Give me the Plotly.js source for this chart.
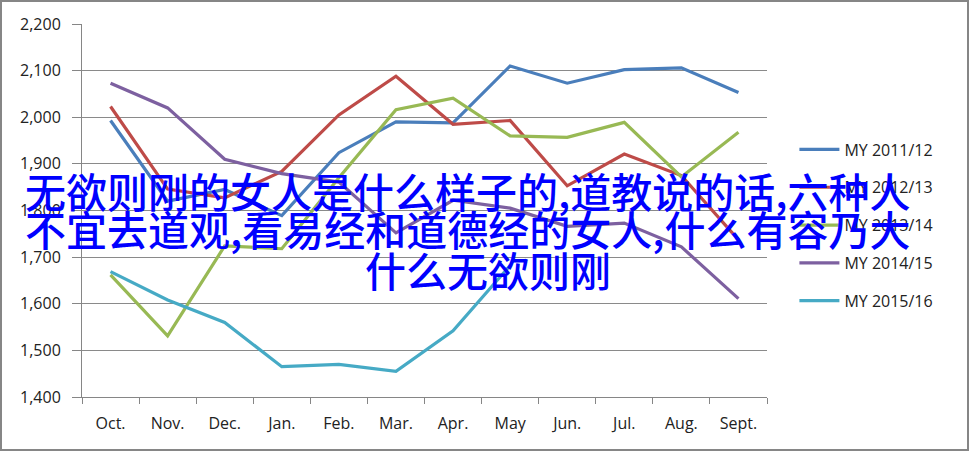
<!DOCTYPE html>
<html>
<head>
<meta charset="utf-8">
<script src="https://cdn.plot.ly/plotly-3.0.1.min.js"></script>
<style>
  html, body { margin: 0; padding: 0; background: #fff; }
  #wrap { position: relative; width: 969px; height: 451px; }
  #chart { position: absolute; left: 0; top: 0; width: 969px; height: 451px; }
  #frame { position: absolute; left: 0; top: 0; width: 969px; height: 451px;
           box-sizing: border-box; border: 2px solid #868686; pointer-events: none; }
</style>
</head>
<body>
<div id="wrap">
  <div id="chart"></div>
  <div id="frame"></div>
</div>
<script>
// Marketing years, October through September
const months = ["Oct.", "Nov.", "Dec.", "Jan.", "Feb.", "Mar.", "Apr.", "May", "Jun.", "Jul.", "Aug.", "Sept."];

const seriesNames = ["MY 2011/12", "MY 2012/13", "MY 2013/14", "MY 2014/15", "MY 2015/16"];

const my2011 = [1993, 1820, 1845, 1789, 1924, 1990, 1988, 2110, 2073, 2102, 2106, 2053];
const my2012 = [2023, 1846, 1827, 1884, 2005, 2088, 1985, 1993, 1853, 1921, 1875, 1737];
const my2013 = [1662, 1531, 1724, 1718, 1870, 2016, 2041, 1960, 1957, 1989, 1872, 1968];
const my2014 = [2073, 2020, 1910, 1879, 1861, 1752, 1822, 1805, 1766, 1773, 1722, 1611];
const my2015 = [1669, 1608, 1560, 1465, 1470, 1455, 1542, 1682];

const seriesValues = [my2011, my2012, my2013, my2014, my2015];
const seriesColors = ["#4A7EBB", "#BE4B48", "#98B954", "#7D60A0", "#46AAC5"];

// Headline text laid over the chart, one annotation per line
const headlineLines = [
  "无欲则刚的女人是什么样子的,道教说的话,六种人",
  "不宜去道观,看易经和道德经的女人,什么有容乃大",
  "什么无欲则刚"
];

const traces = seriesValues.map((vals, i) => ({
  type: "scatter",
  mode: "lines",
  name: seriesNames[i],
  legendgroup: "g" + i,
  x: months.slice(0, vals.length),
  y: vals,
  line: { color: seriesColors[i], width: 3.2 },
  hoverinfo: "skip"
}));

const headlinePos = [
  { x: 0.5635, y: 0.556 },
  { x: 0.5635, y: 0.452 },
  { x: 0.5927, y: 0.343 }
];

const annotations = headlineLines.map((t, i) => ({
  xref: "paper", yref: "paper",
  x: headlinePos[i].x, y: headlinePos[i].y,
  xanchor: "center", yanchor: "middle",
  text: t,
  showarrow: false,
  font: { family: "Noto Sans CJK SC", size: 41, color: "#0000FF", weight: 500 }
}));

const tickFont = { family: "Open Sans, Lato, sans-serif", size: 16, color: "#222" };

const layout = {
  width: 969,
  height: 451,
  margin: { l: 82, r: 202, t: 24, b: 54 },
  paper_bgcolor: "#fff",
  plot_bgcolor: "#fff",
  showlegend: true,
  legend: {
    x: 1.04, xanchor: "left",
    y: 0.461, yanchor: "middle",
    font: { family: "Open Sans, Lato, sans-serif", size: 16, color: "#222" },
    tracegroupgap: 14,
    itemwidth: 40,
    bgcolor: "rgba(0,0,0,0)"
  },
  xaxis: {
    type: "category",
    categoryorder: "array",
    categoryarray: months,
    range: [-0.5, 11.5],
    showgrid: false,
    showline: true,
    linecolor: "#868686",
    linewidth: 1,
    ticks: "outside",
    tickson: "boundaries",
    ticklen: 6,
    tickcolor: "#868686",
    tickfont: tickFont,
    ticklabelstandoff: 12,
    zeroline: false,
    fixedrange: true
  },
  yaxis: {
    range: [1400, 2200],
    dtick: 100,
    tick0: 1400,
    tickformat: ",d",
    showgrid: true,
    gridcolor: "#8a8a8a",
    gridwidth: 1,
    showline: true,
    linecolor: "#868686",
    linewidth: 1,
    ticks: "outside",
    ticklen: 9,
    tickcolor: "#868686",
    tickfont: tickFont,
    ticklabelstandoff: 8,
    zeroline: false,
    fixedrange: true
  },
  annotations: annotations
};

Plotly.newPlot("chart", traces, layout, { displayModeBar: false, staticPlot: true });
</script>
</body>
</html>
